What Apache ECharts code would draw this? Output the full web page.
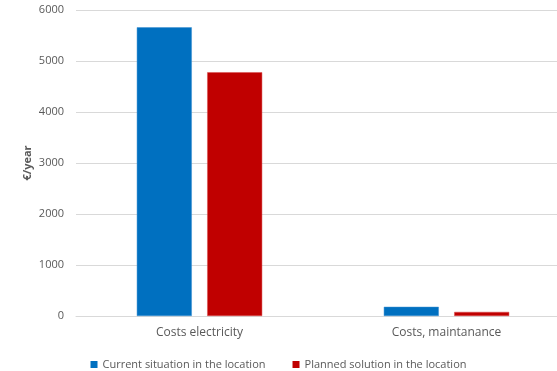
<!DOCTYPE html>
<html>
<head>
<meta charset="utf-8">
<script src="https://cdn.jsdelivr.net/npm/echarts@6/dist/echarts.min.js"></script>
<style>
  html, body { margin: 0; padding: 0; background: #fff; }
  #chart { width: 557px; height: 371px; }
</style>
</head>
<body>
<div id="chart"></div>
<script>
// Annual cost comparison (€/year)
const categories = ['Costs electricity', 'Costs, maintanance'];
const currentSituation = [5660, 180];
const plannedSolution = [4780, 80];
const yTicks = { min: 0, max: 6000, interval: 1000 };
const seriesNames = ['Current situation in the location', 'Planned solution in the location'];

const fontFamily = '"Open Sans", "Noto Sans", sans-serif';
const textGrey = '#595959';

const chart = echarts.init(document.getElementById('chart'), null, { renderer: 'canvas' });
chart.setOption({
  animation: false,
  textStyle: { fontFamily: fontFamily },
  grid: { left: 76, top: 10, width: 494, height: 306, containLabel: false, outerBoundsMode: 'none' },
  legend: {
    top: 354,
    left: 'center',
    itemWidth: 7,
    itemHeight: 7,
    itemGap: 27,
    icon: 'rect',
    itemStyle: { borderWidth: 0 },
    textStyle: { color: textGrey, fontSize: 11, fontFamily: fontFamily },
    data: seriesNames
  },
  xAxis: {
    type: 'category',
    data: categories,
    axisTick: { show: false },
    axisLine: { lineStyle: { color: '#d9d9d9', width: 1 } },
    axisLabel: { color: textGrey, fontSize: 12, margin: 11, fontFamily: fontFamily }
  },
  yAxis: {
    type: 'value',
    min: yTicks.min,
    max: yTicks.max,
    interval: yTicks.interval,
    name: '€/year',
    nameLocation: 'middle',
    nameGap: 43,
    nameMoveOverlap: false,
    nameTextStyle: { color: textGrey, fontSize: 11, fontWeight: 'bold', fontFamily: fontFamily },
    axisLine: { show: false },
    axisTick: { show: false },
    axisLabel: { color: textGrey, fontSize: 11, margin: 12, fontFamily: fontFamily, formatter: (v) => String(v) },
    splitLine: { lineStyle: { color: '#d9d9d9', width: 1 } }
  },
  series: [
    {
      name: seriesNames[0],
      type: 'bar',
      data: currentSituation,
      barWidth: 55,
      barGap: '28%',
      itemStyle: { color: '#0070C0', borderColor: '#3a8fd0', borderWidth: 0.5 }
    },
    {
      name: seriesNames[1],
      type: 'bar',
      data: plannedSolution,
      barWidth: 55,
      itemStyle: { color: '#C00000', borderColor: '#d94a4a', borderWidth: 0.5 }
    }
  ]
});
</script>
</body>
</html>
